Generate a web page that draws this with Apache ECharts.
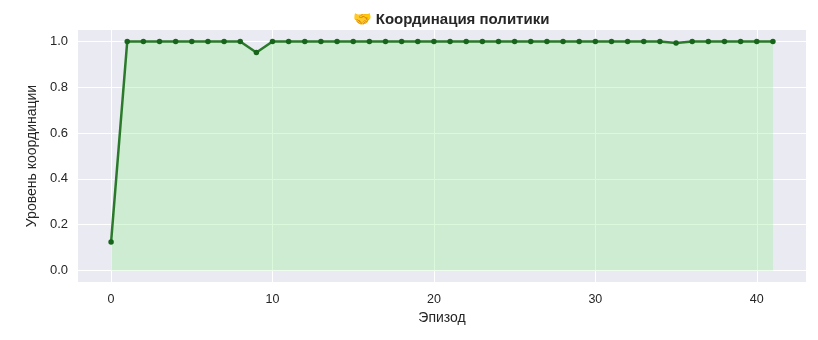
<!DOCTYPE html>
<html><head><meta charset="utf-8">
<script src="https://cdn.jsdelivr.net/npm/echarts@6/dist/echarts.min.js"></script>
<style>html,body{margin:0;padding:0;background:#fff}#c{width:818px;height:340px}</style>
</head><body><div id="c"></div>
<script>
const episodes = [0,1,2,3,4,5,6,7,8,9,10,11,12,13,14,15,16,17,18,19,20,21,22,23,24,25,26,27,28,29,30,31,32,33,34,35,36,37,38,39,40,41];
const coordination = [0.125,1,1,1,1,1,1,1,1,0.952,1,1,1,1,1,1,1,1,1,1,1,1,1,1,1,1,1,1,1,1,1,1,1,1,1,0.993,1,1,1,1,1,1];
const xTicks = [0,10,20,30,40];
const yTicks = [0,0.2,0.4,0.6,0.8,1.0];
const titleText = '🤝 Координация политики';
const xName = 'Эпизод';
const yName = 'Уровень координации';

const font = 'Liberation Sans, Arial, sans-serif';
const chart = echarts.init(document.getElementById('c'), null, {renderer:'canvas'});
chart.setOption({
  backgroundColor:'#ffffff',
  animation:false,
  title:{text:titleText,left:446,top:7,textAlign:'center',
    textStyle:{fontFamily:font,fontSize:15,fontWeight:'bold',color:'#262626'}},
  grid:{left:78,right:12,top:30,bottom:58,show:true,backgroundColor:'#EAEAF2',borderWidth:0},
  xAxis:{type:'value',min:-2.05,max:43.05,
    name:xName,nameLocation:'middle',nameGap:27,
    nameTextStyle:{fontFamily:font,fontSize:14,color:'#262626'},
    axisLine:{show:false},axisTick:{show:false,customValues:xTicks},
    axisLabel:{customValues:xTicks,fontFamily:font,fontSize:12.5,color:'#262626',margin:11,
      formatter:v=>String(v)},
    splitLine:{show:true,lineStyle:{color:'#ffffff',width:1}}},
  yAxis:{type:'value',min:-0.05,max:1.05,
    name:yName,nameLocation:'middle',nameGap:35,nameRotate:90,
    nameTextStyle:{fontFamily:font,fontSize:14,color:'#262626'},
    axisLine:{show:false},axisTick:{show:false,customValues:yTicks},
    axisLabel:{customValues:yTicks,fontFamily:font,fontSize:13,color:'#262626',margin:10,
      formatter:v=>v.toFixed(1)},
    splitLine:{show:true,lineStyle:{color:'#ffffff',width:1}}},
  series:[{type:'line',data:episodes.map((e,i)=>[e,coordination[i]]),
    symbol:'circle',symbolSize:5.5,
    lineStyle:{color:'#2b7a2b',width:2.5},
    itemStyle:{color:'#16651a'},
    areaStyle:{color:'rgba(144,238,144,0.32)',opacity:1,origin:0}}]
});
</script></body></html>
